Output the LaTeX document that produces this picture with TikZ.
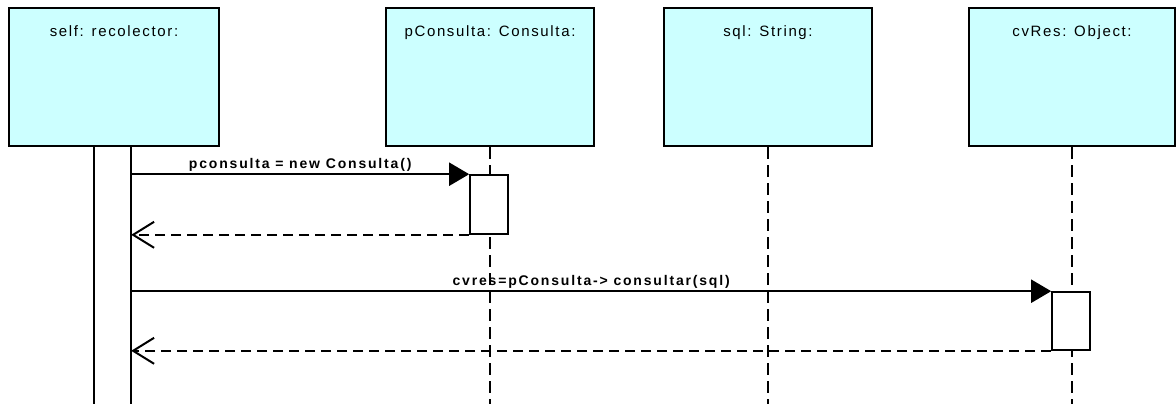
\documentclass[tikz,border=0pt]{standalone}
\usepackage{fontspec}
\setmainfont{Liberation Sans}
\usetikzlibrary{arrows.meta, positioning}

\definecolor{objfill}{RGB}{204,255,255}
\newcommand\objfont{\fontsize{15}{18}\selectfont\addfontfeature{LetterSpace=11}}
\newcommand\msgfont{\fontsize{14}{16}\selectfont\bfseries\addfontfeature{LetterSpace=13}}

\tikzset{
  objbox/.style={draw, line width=2pt, fill=objfill, minimum width=208pt,
                 minimum height=138pt, inner sep=0pt},
  objname/.style={anchor=north, yshift=-18pt, font=\objfont, inner sep=0pt},
  actbar/.style={draw, line width=1.6pt, fill=white, minimum width=38pt, inner sep=0pt},
  lifeline/.style={line width=2pt, dash pattern=on 12pt off 6pt},
  call/.style={line width=2pt, -{Triangle[length=20pt, width=23pt]}},
  reply/.style={line width=2pt, dash pattern=on 10pt off 6pt,
                -{Straight Barb[length=21pt, width=26pt, line width=2pt]}},
  msg/.style={above=1pt, font=\msgfont, inner sep=1pt}
}

\begin{document}
\begin{tikzpicture}[x=1pt, y=-1pt]
  \useasboundingbox (0,0) rectangle (1176,404);
  \coordinate (bottom) at (0,404);

  % objects
  \node[objbox, minimum width=210pt, label={[objname]north:{self: recolector:}}] (self) at (114,77) {};
  \node[objbox, label={[objname]north:{pConsulta: Consulta:}}] (pc) at (490,77) {};
  \node[objbox, label={[objname]north:{sql: String:}}] (sql) at (768,77) {};
  \node[objbox, minimum width=206pt, label={[objname]north:{cvRes: Object:}}] (cvres) at (1072,77) {};

  % lifelines
  \foreach \o in {pc, sql, cvres}
    \draw[lifeline] (\o.south) -- (\o.south |- bottom);

  % activation of self, open at the bottom
  \node[minimum width=37pt, minimum height=258pt, inner sep=0pt] (selfact) at (112.5,275) {};
  \draw[line width=1.6pt] (selfact.south west) -- (selfact.north west)
                          (selfact.north east) -- (selfact.south east);

  \node[actbar, minimum height=59pt] (act1) at (489,204.5) {};
  \node[actbar, minimum height=58pt] (act2) at (1071,321) {};

  % messages
  \draw[call] (selfact.east |- act1.north) -- (act1.north west)
    node[msg, midway] {pconsulta = new Consulta()};
  \draw[reply] (act1.south west) -- (selfact.east |- act1.south);
  \draw[call] (selfact.east |- act2.north) -- (act2.north west)
    node[msg, midway] {cvres=pConsulta-> consultar(sql)};
  \draw[reply] (act2.south west) -- (selfact.east |- act2.south);
\end{tikzpicture}
\end{document}
